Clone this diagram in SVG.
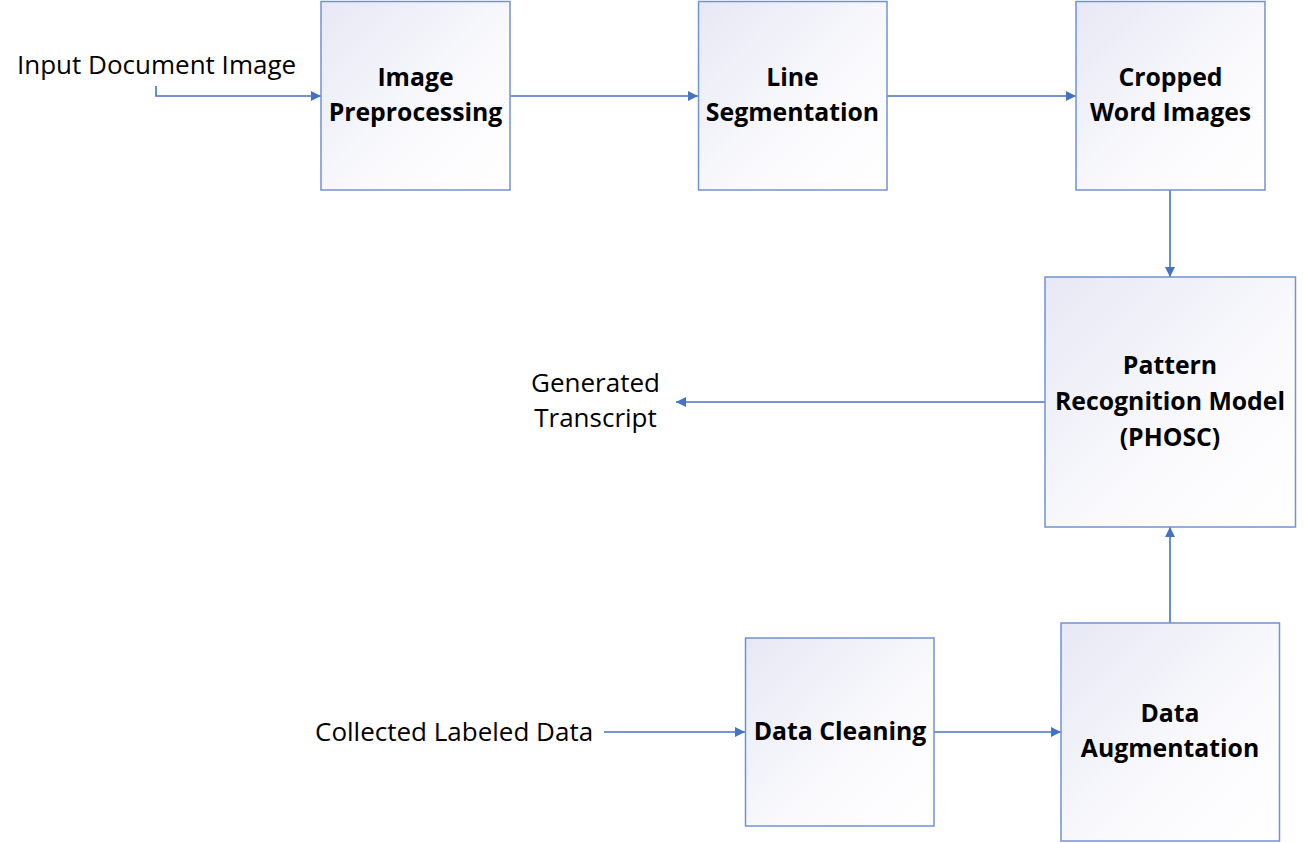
<svg xmlns="http://www.w3.org/2000/svg" width="1304" height="843" viewBox="0 0 1304 843">
<style>
.box{stroke:#7293CF;stroke-width:1.5;fill:url(#g)}
.bt{font-family:"Open Sans","Liberation Sans",sans-serif;font-weight:bold;font-size:24.8px;fill:#000;text-anchor:middle}
.lt{font-family:"Open Sans","Liberation Sans",sans-serif;font-size:26px;fill:#000}
.c{stroke:#4472C4;stroke-width:1.6;fill:none;marker-end:url(#ah)}
</style>
<defs>
<linearGradient id="g" x1="0" y1="0" x2="1" y2="1">
<stop offset="0" stop-color="#E6E8F4"/>
<stop offset="0.6" stop-color="#FAFAFD"/>
<stop offset="1" stop-color="#FFFFFF"/>
</linearGradient>
<marker id="ah" viewBox="0 0 10 10" refX="10" refY="5" markerWidth="10" markerHeight="10" markerUnits="userSpaceOnUse" orient="auto">
<path d="M0,0 L10,5 L0,10 z" fill="#4472C4"/>
</marker>
</defs>
<rect width="1304" height="843" fill="#fff"/>
<g id="connectors">
<path class="c" d="M156,86 V96 H321"/>
<path class="c" d="M510,96 H698"/>
<path class="c" d="M887,96 H1076"/>
<path class="c" d="M1170,190 V277"/>
<path class="c" d="M1045,402 H676"/>
<path class="c" d="M604,732 H745"/>
<path class="c" d="M934,732 H1061"/>
<path class="c" d="M1170,623 V527"/>
</g>
<g id="input-label"><text class="lt" x="17" y="74">Input Document Image</text></g>
<g id="image-preprocessing">
<rect class="box" x="321" y="1.5" width="189" height="188.5"/>
<text class="bt" x="415.5" y="86">Image</text>
<text class="bt" x="415.5" y="121">Preprocessing</text>
</g>
<g id="line-segmentation">
<rect class="box" x="698.5" y="1.5" width="188.5" height="188.5"/>
<text class="bt" x="792.5" y="86">Line</text>
<text class="bt" x="792.5" y="121">Segmentation</text>
</g>
<g id="cropped-word-images">
<rect class="box" x="1076" y="1.5" width="189" height="188.5"/>
<text class="bt" x="1170.5" y="86">Cropped</text>
<text class="bt" x="1170.5" y="121">Word Images</text>
</g>
<g id="pattern-recognition">
<rect class="box" x="1045" y="277" width="250.5" height="250"/>
<text class="bt" x="1170" y="374">Pattern</text>
<text class="bt" x="1170" y="410">Recognition Model</text>
<text class="bt" x="1170" y="446">(PHOSC)</text>
</g>
<g id="generated-transcript">
<text class="lt" x="595.5" y="392" text-anchor="middle">Generated</text>
<text class="lt" x="595.5" y="427" text-anchor="middle">Transcript</text>
</g>
<g id="collected-label"><text class="lt" x="315" y="741">Collected Labeled Data</text></g>
<g id="data-cleaning">
<rect class="box" x="745.5" y="638" width="188.5" height="188"/>
<text class="bt" x="840" y="740">Data Cleaning</text>
</g>
<g id="data-augmentation">
<rect class="box" x="1061" y="623" width="218.5" height="218"/>
<text class="bt" x="1170" y="722">Data</text>
<text class="bt" x="1170" y="757">Augmentation</text>
</g>
</svg>
